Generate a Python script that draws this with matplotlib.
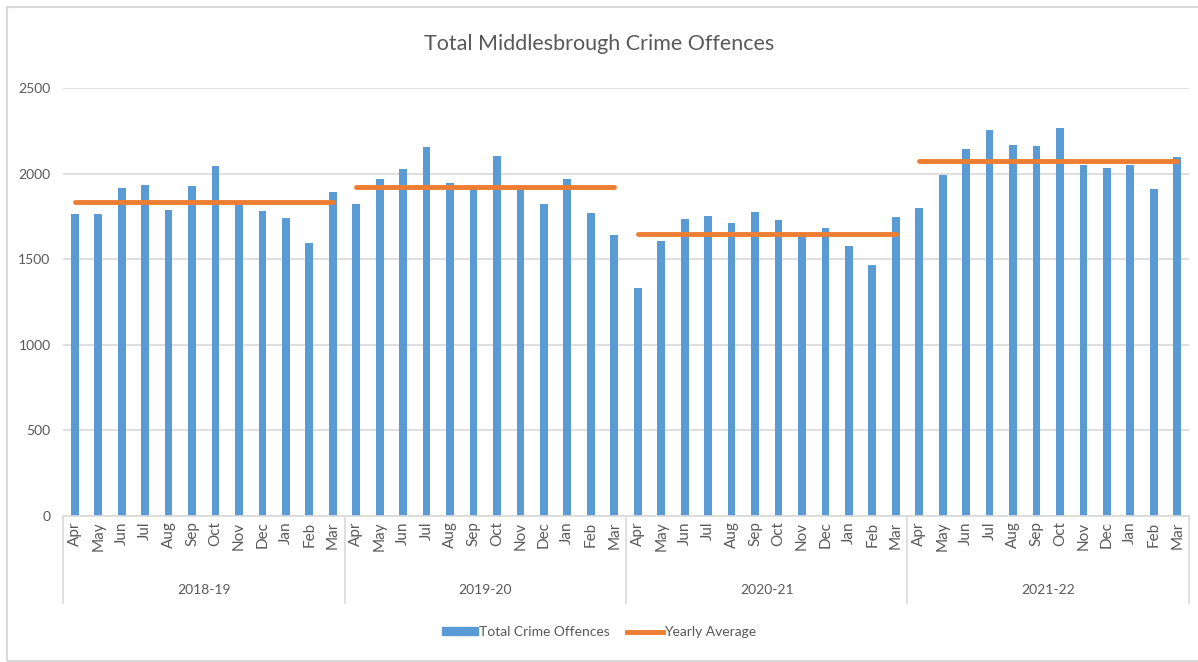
import numpy as np
import matplotlib.pyplot as plt
from matplotlib.patches import Rectangle, Patch
from matplotlib.lines import Line2D
import matplotlib.transforms as mtransforms

plt.rcParams['font.family'] = ['Lato', 'DejaVu Sans']

# data
months = ['Apr', 'May', 'Jun', 'Jul', 'Aug', 'Sep', 'Oct', 'Nov', 'Dec', 'Jan', 'Feb', 'Mar']
years = ['2018-19', '2019-20', '2020-21', '2021-22']
offences_1819 = [1765, 1765, 1917, 1935, 1789, 1930, 2044, 1826, 1781, 1742, 1594, 1892]
offences_1920 = [1822, 1970, 2025, 2153, 1947, 1915, 2104, 1913, 1822, 1966, 1770, 1641]
offences_2021 = [1330, 1604, 1733, 1750, 1709, 1774, 1727, 1645, 1680, 1577, 1466, 1746]
offences_2122 = [1801, 1990, 2141, 2256, 2167, 2159, 2264, 2048, 2032, 2048, 1910, 2098]

series = [offences_1819, offences_1920, offences_2021, offences_2122]
values = np.concatenate(series)
x = np.arange(len(values))

blue = '#5B9BD5'
orange = '#ED7D31'
grey_txt = '#595959'
grid_col = '#D9D9D9'

W, H = 1198, 662
fig = plt.figure(figsize=(W / 100, H / 100), dpi=100)
ax = fig.add_axes([63 / W, 1 - 516 / H, (1189 - 63) / W, (516 - 88) / H])

ax.bar(x, values, width=0.33, color=blue, zorder=2)

# yearly average lines, spanning Apr..Mar of each year
for k, s in enumerate(series):
    xs = [k * 12, k * 12 + 11]
    avg = np.mean(s)
    ax.plot(xs, [avg, avg], color=orange, lw=3.5, solid_capstyle='round', zorder=3)

ax.set_xlim(-0.5, len(values) - 0.5)
ax.set_ylim(0, 2500)
ax.set_yticks(np.arange(0, 2501, 500))
ax.yaxis.grid(True, color=grid_col, lw=1.2, zorder=0)
ax.set_axisbelow(True)
for sp in ['top', 'right', 'left']:
    ax.spines[sp].set_visible(False)
ax.spines['bottom'].set_color(grid_col)
ax.spines['bottom'].set_linewidth(1.2)
ax.tick_params(axis='y', length=0, labelsize=10, labelcolor=grey_txt, pad=9)
ax.set_xticks(x)
ax.set_xticklabels(months * len(years), rotation=90)
ax.tick_params(axis='x', length=0, labelsize=11, labelcolor=grey_txt, pad=4)

# group separators and year labels under the axis
trans = mtransforms.blended_transform_factory(ax.transData, ax.transAxes)
drop = (603 - 516) / (516 - 88)
for k in range(len(years) + 1):
    ax.plot([k * 12 - 0.5] * 2, [0, -drop], color=grid_col, lw=1.2,
            transform=trans, clip_on=False)
for k, yr in enumerate(years):
    ax.text(k * 12 + 5.5, -(590 - 516) / (516 - 88), yr, transform=trans,
            ha='center', va='center', fontsize=10, color=grey_txt)

fig.text(0.5, 1 - 44 / H, 'Total Middlesbrough Crime Offences', ha='center', va='center',
         fontsize=15.5, color=grey_txt)

handles = [Patch(color=blue), Line2D([0], [0], color=orange, lw=3.5)]
fig.legend(handles, ['Total Crime Offences', 'Yearly Average'], loc='center',
           bbox_to_anchor=(0.5, 1 - 632 / H), ncol=2, frameon=False,
           fontsize=10, labelcolor=grey_txt, handlelength=2.6, handleheight=0.5,
           columnspacing=1.2, handletextpad=0.1)

# chart border
fig.add_artist(Rectangle((7 / W, 1 / H), 1.0, 1 - 8 / H, transform=fig.transFigure,
                         fill=False, edgecolor=grid_col, lw=1.5))

fig.savefig('out.png', dpi=100)
